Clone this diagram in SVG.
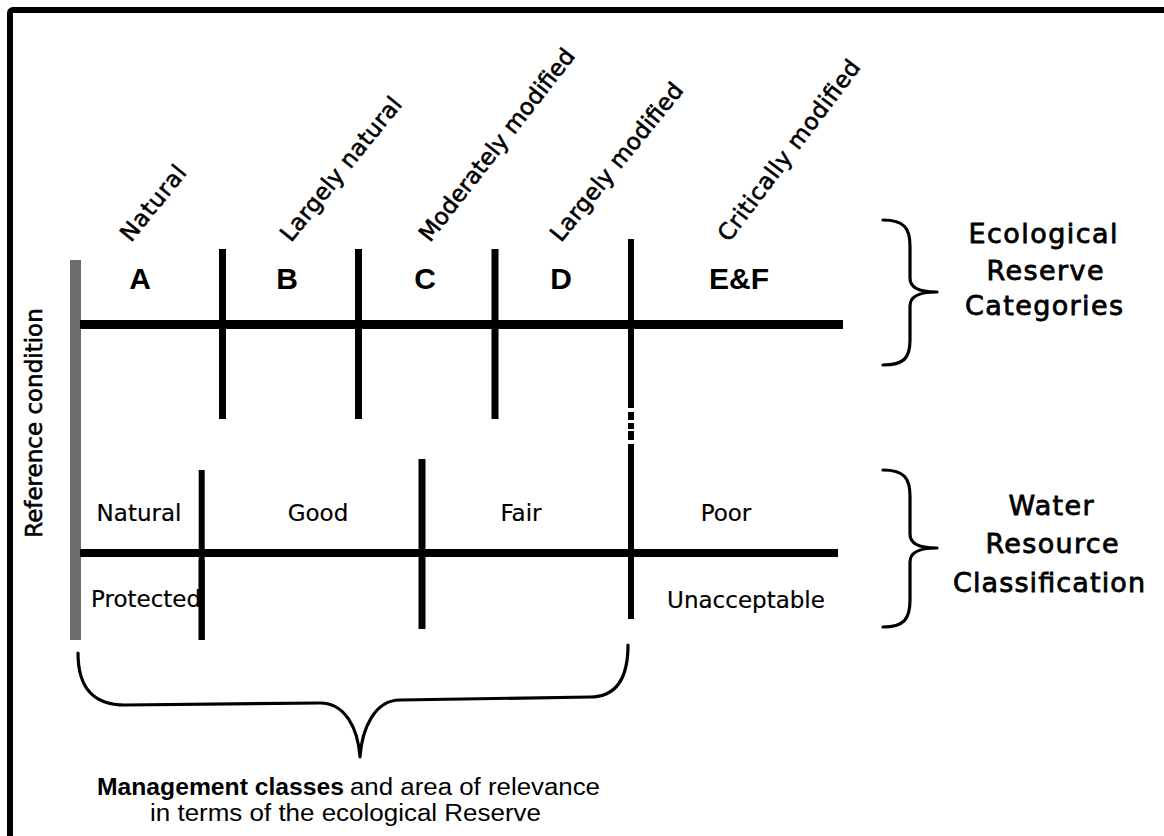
<svg xmlns="http://www.w3.org/2000/svg" width="1164" height="836" viewBox="0 0 1164 836">
<style>
.frame{fill:none;stroke:#000;stroke-width:6}
.ln{stroke:#000;fill:none}
.brace{fill:none;stroke:#000;stroke-width:3.2;stroke-linejoin:round;stroke-linecap:round}
.cat{font-family:"Liberation Sans",Arial,sans-serif;font-weight:bold;font-size:30px;text-anchor:middle;fill:#000}
.rot{font-family:"DejaVu Sans",Verdana,sans-serif;font-size:23px;fill:#000;stroke:#000;stroke-width:0.6}
.cls{font-family:"DejaVu Sans",Verdana,sans-serif;font-size:23px;fill:#000;text-anchor:middle;stroke:#000;stroke-width:0.2}
.side{font-family:"DejaVu Sans",Verdana,sans-serif;font-size:27px;fill:#000;text-anchor:middle;stroke:#000;stroke-width:0.8}
.foot{font-family:"Liberation Sans",Arial,sans-serif;font-size:23px;fill:#000}
</style>
<rect class="frame" x="10" y="10" width="1200" height="900" rx="3"/>

<g id="reference-bar">
  <rect x="70" y="260" width="11" height="380" fill="#6d6d6d"/>
  <text class="rot" font-size="22" stroke-width="0.2" text-anchor="middle" transform="translate(42,423) rotate(-90)">Reference condition</text>
</g>

<g id="connectors">
  <line class="ln" x1="80" y1="324.5" x2="843" y2="324.5" stroke-width="9"/>
  <line class="ln" x1="80" y1="553" x2="838" y2="553" stroke-width="8"/>
  <line class="ln" x1="222.5" y1="249" x2="222.5" y2="419" stroke-width="7"/>
  <line class="ln" x1="358.5" y1="249" x2="358.5" y2="419" stroke-width="7"/>
  <line class="ln" x1="495" y1="249" x2="495" y2="419" stroke-width="7"/>
  <line class="ln" x1="631" y1="239" x2="631" y2="408" stroke-width="6"/>
  <line class="ln" x1="631" y1="412" x2="631" y2="420" stroke-width="6"/>
  <line class="ln" x1="631" y1="423" x2="631" y2="429" stroke-width="6"/>
  <line class="ln" x1="631" y1="431" x2="631" y2="440" stroke-width="6"/>
  <line class="ln" x1="631" y1="444" x2="631" y2="619" stroke-width="6"/>
  <line class="ln" x1="201.7" y1="470" x2="201.7" y2="640" stroke-width="6"/>
  <line class="ln" x1="422" y1="459" x2="422" y2="629" stroke-width="7"/>
</g>

<g id="ecological-categories">
  <text class="cat" x="140" y="289">A</text>
  <text class="cat" x="287" y="289">B</text>
  <text class="cat" x="425" y="289">C</text>
  <text class="cat" x="561" y="289">D</text>
  <text class="cat" x="739" y="289">E&amp;F</text>
</g>

<g id="category-names">
  <text class="rot" transform="translate(131,243) rotate(-51)" textLength="90" lengthAdjust="spacing">Natural</text>
  <text class="rot" transform="translate(291,243) rotate(-51)" textLength="178" lengthAdjust="spacing">Largely natural</text>
  <text class="rot" transform="translate(430,243) rotate(-52)" textLength="237" lengthAdjust="spacing">Moderately modified</text>
  <text class="rot" transform="translate(561,243) rotate(-51)" textLength="196" lengthAdjust="spacing">Largely modified</text>
  <text class="rot" transform="translate(729,243) rotate(-53)" textLength="220" lengthAdjust="spacing">Critically modified</text>
</g>

<g id="water-classes">
  <text class="cls" x="139" y="521">Natural</text>
  <text class="cls" x="318" y="521">Good</text>
  <text class="cls" x="521" y="521">Fair</text>
  <text class="cls" x="726" y="521">Poor</text>
  <text class="cls" x="91" y="607" style="text-anchor:start">Protected</text>
  <text class="cls" x="746" y="608">Unacceptable</text>
</g>

<g id="protected-cover">
  <line class="ln" x1="201.7" y1="560" x2="201.7" y2="640" stroke-width="6"/>
</g>

<g id="ecological-reserve-label">
  <path class="brace" d="M883,220 C904,220 910,228 910,246 L910,278 C910,287 917,292 937,292 C917,292 910,297 910,306 L910,340 C910,358 904,365 883,365"/>
  <text class="side" x="1043" y="243" textLength="149" lengthAdjust="spacing">Ecological</text>
  <text class="side" x="1045" y="280" textLength="117" lengthAdjust="spacing">Reserve</text>
  <text class="side" x="1044" y="315" textLength="158" lengthAdjust="spacing">Categories</text>
</g>

<g id="water-resource-label">
  <path class="brace" d="M883,470 C904,470 910,478 910,496 L910,534 C910,543 917,548 937,548 C917,548 910,553 910,562 L910,600 C910,619 904,627 883,627"/>
  <text class="side" x="1051" y="515" textLength="85" lengthAdjust="spacing">Water</text>
  <text class="side" x="1052" y="553" textLength="133" lengthAdjust="spacing">Resource</text>
  <text class="side" x="1049" y="592" textLength="192" lengthAdjust="spacing">Classification</text>
</g>

<g id="management-classes">
  <path class="brace" stroke-width="3" d="M78,653 C78,690 95,705 125,705 L320,703 C345,703 358,728 360,757 C362,728 375,700 400,700 L590,697 C614,697 628,682 628,645"/>
  <text class="foot" x="97" y="795" font-weight="bold" textLength="247" lengthAdjust="spacingAndGlyphs">Management classes</text>
  <text class="foot" x="350" y="795" textLength="250" lengthAdjust="spacingAndGlyphs">and area of relevance</text>
  <text class="foot" x="150" y="821" textLength="391" lengthAdjust="spacingAndGlyphs">in terms of the ecological Reserve</text>
</g>
</svg>
